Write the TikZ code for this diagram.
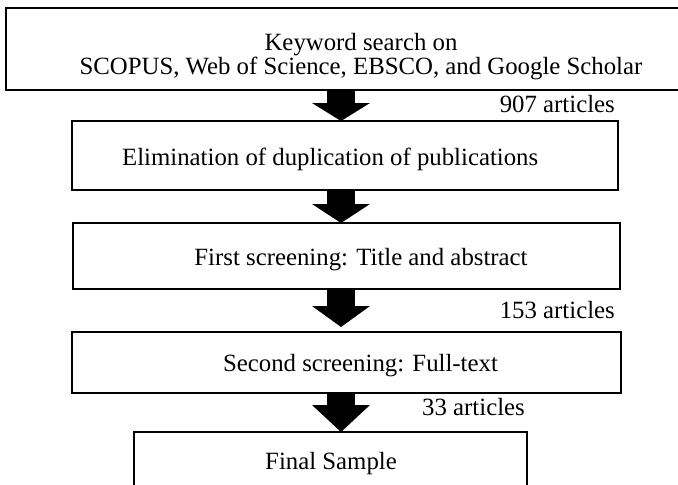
\documentclass[tikz,border=0pt]{standalone}
\usepackage{fontspec}
\setmainfont{Liberation Serif}
\usetikzlibrary{calc}
\newcommand\blockarr[4]{%
  \fill[black] let \p1=(ax |- #1.south), \p2=(ax |- #2.north) in
    (\x1-13.8pt,\y1) -- (\x1+13.8pt,\y1) -- (\x1+13.8pt,\y2+#4pt+#3pt)
    -- (\x1+29pt,\y2+#4pt+#3pt) -- (\x1,\y2+#4pt) -- (\x1-29pt,\y2+#4pt+#3pt)
    -- (\x1-13.8pt,\y2+#4pt+#3pt) -- cycle;}
\begin{document}
\begin{tikzpicture}[x=1pt,y=-1pt,
  box/.style={draw=black,line width=2pt,inner sep=0pt,outer sep=0pt,fill=white},
  txt/.style={inner sep=0pt,anchor=base,font=\fontsize{24.8}{29}\selectfont},
  cnt/.style={inner sep=0pt,anchor=base east,font=\fontsize{24.8}{29}\selectfont}]
\path[use as bounding box, clip] (0,0) rectangle (678,485);
\fill[white] (0,0) rectangle (678,485);
\coordinate (ax) at (341,0);
% boxes
\node[box,minimum width=710pt,minimum height=82pt] (b1) at (361,49) {};
\node[box,minimum width=546pt,minimum height=69pt] (b2) at (345,155.5) {};
\node[box,minimum width=547pt,minimum height=66pt] (b3) at (346.5,256) {};
\node[box,minimum width=549pt,minimum height=61pt] (b4) at (346.5,362.5) {};
\node[box,minimum width=393pt,minimum height=73pt] (b5) at (330.5,468.5) {};
% texts
\node[txt] (t1a) at (361,50) {Keyword search on};
\node[txt] (t1b) at (361,74) {SCOPUS, Web of Science, EBSCO, and Google Scholar};
\node[txt,anchor=base west] (t2) at (122,165) {Elimination of duplication of publications};
\node[txt] (t3) at (361,265) {First screening: Title and abstract};
\node[txt] (t4) at (360.5,371.5) {Second screening: Full-text};
\node[txt] (t5) at (331,469) {Final Sample};
% counts
\node[cnt] (c1) at (615,112) {907 articles};
\node[cnt] (c2) at (615,318) {153 articles};
\node[cnt] (c3) at (525,415) {33 articles};
% arrows
\blockarr{b1}{b2}{18}{0}
\blockarr{b2}{b3}{19}{0}
\blockarr{b3}{b4}{21}{5}
\blockarr{b4}{b5}{27}{0}
\end{tikzpicture}
\end{document}
